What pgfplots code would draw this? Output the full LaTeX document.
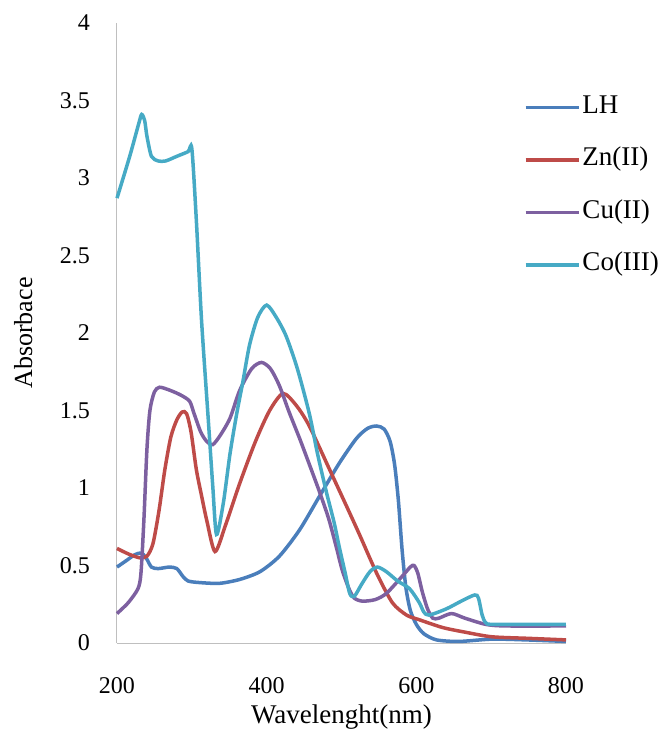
\documentclass[border=0pt]{standalone}
\usepackage{fontspec}
\setmainfont{Liberation Serif}
\usepackage{pgfplots}
\pgfplotsset{compat=1.18}
\definecolor{cLH}{RGB}{74,126,187}
\definecolor{cZn}{RGB}{190,75,72}
\definecolor{cCu}{RGB}{125,96,160}
\definecolor{cCo}{RGB}{70,170,197}
\newcommand\ff{\fontsize{24bp}{28bp}\selectfont}
\newcommand\fl{\fontsize{27bp}{31bp}\selectfont}
\newcommand\fy{\fontsize{26bp}{30bp}\selectfont}
\begin{document}
\begin{tikzpicture}
\useasboundingbox (-117bp,-86bp) rectangle (542bp,643bp);
\begin{axis}[
  at={(0,0)}, anchor=south west,
  scale only axis, width=449bp, height=620bp,
  xmin=200, xmax=800, ymin=0, ymax=4,
  xtick={200,400,600,800},
  ytick={0,0.5,1,1.5,2,2.5,3,3.5,4},
  axis lines=left,
  axis line style={-, draw=black!25, line width=1bp},
  major tick length=0pt,
  /pgf/number format/assume math mode=true,
  tick label style={font=\ff, text=black},
  xticklabel style={anchor=base, yshift=-50bp, inner sep=0pt},
  yticklabel style={anchor=east, xshift=-27bp, inner sep=0pt},
  xlabel={Wavelenght(nm)},
  ylabel={Absorbace},
  xlabel style={font=\fl, at={(axis description cs:0.5,-0.1306)}, anchor=base},
  ylabel style={font=\fy, at={(axis description cs:-0.189,0.5)}, anchor=base},
  clip=false,
  legend style={draw=none, fill=none, inner sep=0pt, font=\fl,
    at={(axis description cs:0.906,0.737)}, anchor=west,
    row sep=22.5bp,
    nodes={inner sep=2bp, text height=19bp, text depth=7bp}},
  legend cell align=left,
  legend image code/.code={\draw[#1] (0bp,0bp) -- (53bp,0bp);},
  every axis plot/.append style={line width=3.5bp, smooth, tension=0.45},
]
\addplot[cLH] coordinates {
(200,0.49) (212,0.53) (224,0.57) (233,0.58) (240,0.54) (246,0.49) (255,0.48)
(270,0.49) (280,0.48) (288,0.43) (295,0.40) (310,0.39) (337,0.385) (364,0.41)
(391,0.46) (417,0.56) (444,0.73) (471,0.95) (497,1.16) (520,1.32) (535,1.385)
(547,1.40) (557,1.38) (565,1.30) (571,1.15) (576,0.92) (581,0.60) (586,0.36)
(592,0.21) (600,0.12) (610,0.06) (627,0.02) (657,0.01) (701,0.025) (747,0.02)
(800,0.01)};
\addlegendentry{LH}
\addplot[cZn] coordinates {
(200,0.61) (215,0.575) (230,0.55) (240,0.56) (248,0.64) (256,0.85) (264,1.12)
(272,1.33) (280,1.44) (287,1.49) (293,1.48) (299,1.36) (306,1.12) (313,0.95)
(320,0.79) (331,0.59) (345,0.76) (364,1.03) (385,1.30) (404,1.50) (422,1.61)
(440,1.53) (457,1.40) (484,1.12) (507,0.88) (524,0.70) (547,0.45) (568,0.26)
(587,0.18) (604,0.15) (635,0.10) (665,0.07) (701,0.04) (750,0.03) (800,0.02)};
\addlegendentry{Zn(II)}
\addplot[cCu] coordinates {
(200,0.19) (215,0.26) (228,0.35) (232,0.45) (236,0.80) (240,1.25) (244,1.50)
(250,1.62) (257,1.65) (271,1.63) (285,1.60) (297,1.56) (303,1.48) (312,1.36)
(320,1.30) (328,1.28) (338,1.34) (351,1.45) (364,1.63) (380,1.77) (393,1.81)
(405,1.77) (417,1.66) (430,1.49) (444,1.32) (458,1.14) (471,0.97) (483,0.80)
(493,0.62) (501,0.47) (510,0.35) (517,0.29) (528,0.27) (545,0.28) (560,0.32)
(581,0.43) (592,0.49) (597,0.50) (602,0.45) (608,0.33) (615,0.22) (622,0.16)
(630,0.16) (647,0.19) (665,0.16) (693,0.12) (720,0.11) (800,0.11)};
\addlegendentry{Cu(II)}
\addplot[cCo] coordinates {
(200,2.87) (217,3.14) (229,3.35) (233,3.41) (237,3.37) (240,3.27) (246,3.14)
(255,3.11) (265,3.11) (280,3.14) (295,3.17) (300,3.19) (306,2.73) (313,2.08)
(322,1.44) (328,1.01) (333,0.70) (342,0.90) (351,1.22) (360,1.48) (368,1.68)
(377,1.92) (388,2.10) (400,2.18) (413,2.10) (426,1.98) (441,1.77) (457,1.48)
(468,1.22) (480,0.97) (490,0.78) (497,0.62) (505,0.45) (511,0.32) (517,0.30)
(527,0.38) (538,0.46) (548,0.49) (560,0.46) (575,0.40) (591,0.35) (604,0.26)
(610,0.20) (617,0.18) (640,0.22) (660,0.27) (678,0.31) (683,0.29) (688,0.18)
(693,0.13) (705,0.12) (800,0.12)};
\addlegendentry{Co(III)}
\end{axis}
\end{tikzpicture}
\end{document}
